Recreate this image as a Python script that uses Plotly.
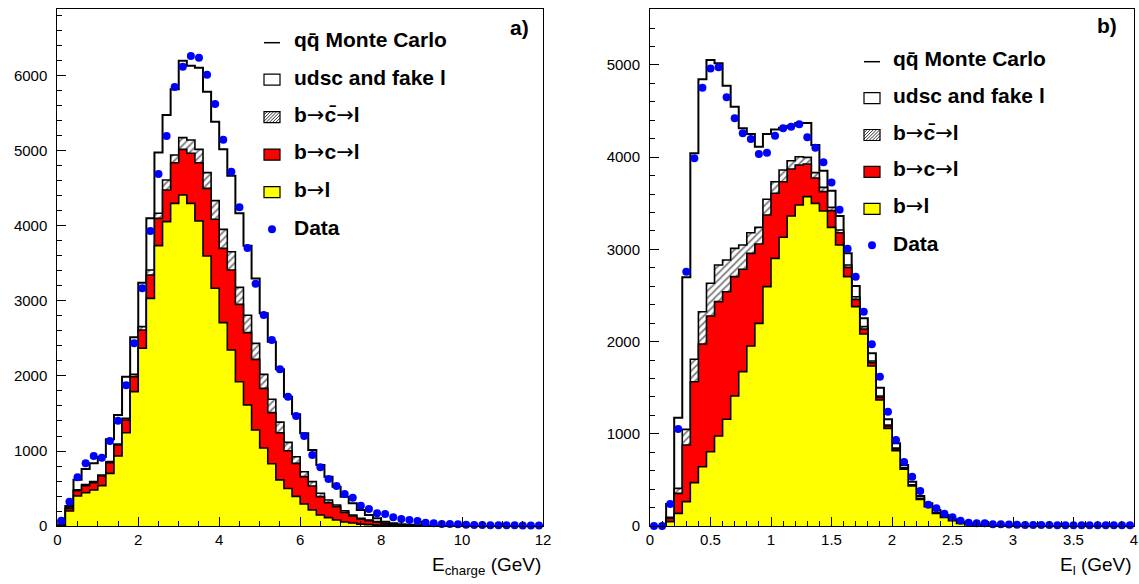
import numpy as np
import plotly.graph_objects as go

W, H = 1139, 584
FONT = "Liberation Sans, Arial, sans-serif"

# ---------------- data: panel a) E_charge, 60 bins of 0.2 GeV ----------------
a_edges = [round(0.2 * i, 4) for i in range(61)]
a_b_l = [5, 200, 400, 444, 480, 538, 702, 933, 1244, 1791,
         2369, 3035, 3738, 4058, 4302, 4413, 4302, 4066, 3600, 3169,
         2711, 2347, 1924, 1613, 1280, 1040, 830, 615, 500, 395,
         293, 213, 147, 111, 80, 53, 40, 25, 18, 12,
         8, 5, 3, 2, 1, 0, 0, 0, 0, 0,
         0, 0, 0, 0, 0, 0, 0, 0, 0, 0]
a_b_c_l = [10, 235, 471, 538, 578, 667, 844, 1080, 1413, 1991,
           2613, 3346, 4102, 4480, 4844, 5022, 4969, 4844, 4502, 4089,
           3702, 3413, 2955, 2578, 2222, 1835, 1511, 1244, 1004, 835,
           658, 533, 391, 311, 258, 182, 133, 93, 71, 49,
           31, 20, 12, 8, 5, 3, 2, 1, 0, 0,
           0, 0, 0, 0, 0, 0, 0, 0, 0, 0]
a_b_cbar_l = [12, 253, 484, 551, 591, 680, 858, 1093, 1435, 2022,
              2658, 3413, 4169, 4613, 4946, 5178, 5146, 5022, 4711, 4338,
              3955, 3657, 3182, 2809, 2435, 2022, 1689, 1385, 1115, 924,
              724, 591, 436, 347, 280, 204, 147, 102, 80, 58,
              36, 24, 15, 10, 6, 4, 3, 2, 1, 0,
              0, 0, 0, 0, 0, 0, 0, 0, 0, 0]
a_total = [70, 267, 618, 760, 835, 920, 1155, 1480, 1991, 2515,
           3244, 4102, 4980, 5480, 5822, 6204, 6137, 6110, 5791, 5391,
           5022, 4671, 4169, 3737, 3300, 2835, 2458, 2089, 1724, 1490,
           1235, 1013, 813, 658, 524, 391, 302, 213, 147, 102,
           58, 35, 22, 15, 10, 7, 5, 4, 3, 2,
           1, 1, 1, 0, 0, 0, 0, 0, 0, 0]
a_data = [71, 324, 649, 835, 933, 911, 1133, 1404, 1875, 2435,
          3169, 3933, 4693, 5200, 5853, 6124, 6267, 6244, 6018, 5626,
          5151, 4724, 4249, 3706, 3231, 2813, 2480, 2089, 1724, 1467,
          1200, 947, 782, 627, 533, 427, 378, 271, 227, 169,
          160, 116, 93, 80, 67, 44, 36, 27, 27, 22,
          18, 13, 13, 10, 10, 9, 9, 8, 8, 8]

# ---------------- data: panel b) E_l, 60 bins of 1/15 GeV ----------------
b_edges = [i / 15.0 for i in range(61)]
b_b_l = [0, 0, 47, 137, 264, 470, 643, 806, 976, 1157,
         1410, 1674, 1952, 2198, 2596, 2903, 3131, 3362, 3481, 3572,
         3499, 3416, 3239, 3047, 2704, 2379, 2082, 1735, 1366, 1059,
         817, 615, 434, 289, 210, 137, 94, 58, 29, 18,
         10, 6, 4, 2, 1, 0, 0, 0, 0, 0,
         0, 0, 0, 0, 0, 0, 0, 0, 0, 0]
b_b_c_l = [0, 0, 83, 354, 878, 1565, 1974, 2277, 2433, 2541,
           2704, 2784, 2957, 3058, 3373, 3608, 3734, 3872, 3915, 3926,
           3774, 3626, 3420, 3181, 2805, 2458, 2136, 1771, 1395, 1085,
           835, 628, 443, 296, 215, 141, 97, 60, 31, 19,
           11, 7, 4, 2, 1, 0, 0, 0, 0, 0,
           0, 0, 0, 0, 0, 0, 0, 0, 0, 0]
b_b_cbar_l = [0, 0, 94, 408, 1048, 1808, 2324, 2632, 2831, 2885,
              3011, 3047, 3181, 3239, 3543, 3734, 3861, 3962, 4005, 3998,
              3832, 3673, 3456, 3210, 2831, 2487, 2162, 1789, 1410, 1095,
              845, 635, 448, 300, 218, 144, 99, 62, 32, 20,
              12, 8, 5, 3, 1, 0, 0, 0, 0, 0,
              0, 0, 0, 0, 0, 0, 0, 0, 0, 0]
b_total = [0, 0, 239, 1175, 2697, 4042, 4844, 5054, 5018, 4775,
           4548, 4313, 4251, 4114, 4251, 4300, 4320, 4340, 4370, 4370,
           4132, 3854, 3637, 3362, 2957, 2603, 2252, 1873, 1500, 1157,
           897, 662, 481, 325, 246, 174, 119, 72, 47, 29,
           18, 12, 8, 5, 3, 2, 1, 1, 0, 0,
           0, 0, 0, 0, 0, 0, 0, 0, 0, 0]
b_data = [0, 0, 239, 1052, 2758, 3987, 4754, 4963, 4974, 4649,
          4421, 4259, 4197, 4034, 4049, 4233, 4313, 4331, 4356, 4215,
          4103, 3944, 3724, 3431, 3008, 2704, 2324, 1970, 1620, 1240,
          933, 694, 535, 380, 231, 192, 134, 94, 58, 36,
          29, 29, 18, 18, 15, 14, 12, 11, 10, 10,
          9, 9, 8, 8, 8, 7, 7, 7, 7, 7]

ARROW = "<span style=\"font-family:'DejaVu Sans';font-weight:normal\">\u2192</span>"
legend_labels = ["qq\u0304 Monte Carlo", "udsc and fake l",
                 "b" + ARROW + "c\u0304" + ARROW + "l",
                 "b" + ARROW + "c" + ARROW + "l",
                 "b" + ARROW + "l", "Data"]
trace_names = ["qq\u0304 Monte Carlo", "udsc and fake l", "b\u2192c\u0304\u2192l",
               "b\u2192c\u2192l", "b\u2192l", "Data"]


def stair(edges, vals):
    x = [edges[0]] + list(edges[:-1]) + [edges[-1], edges[-1]]
    y = [0] + list(vals) + [vals[-1], 0]
    return x, y


def centers(edges):
    return [(edges[i] + edges[i + 1]) / 2 for i in range(len(edges) - 1)]


fig = go.Figure()


def add_panel(edges, total, cbar, cl, bl, data, xa, ya):
    specs = [
        (total, "white", None, 2.0, trace_names[0]),
        (cbar, "white", dict(shape="/", fgcolor="black", bgcolor="white", size=5, solidity=0.35), 1.6, trace_names[2]),
        (cl, "#ff0000", None, 1.6, trace_names[3]),
        (bl, "#ffff00", None, 1.6, trace_names[4]),
    ]
    for vals, col, pat, lw, name in specs:
        x, y = stair(edges, vals)
        kw = dict(x=x, y=y, mode="lines", line=dict(shape="hv", color="black", width=lw),
                  fill="tozeroy", fillcolor=col, name=name, showlegend=False,
                  xaxis=xa, yaxis=ya, hoverinfo="skip")
        if pat is not None:
            kw["fillpattern"] = pat
        fig.add_trace(go.Scatter(**kw))
    fig.add_trace(go.Scatter(x=centers(edges), y=data, mode="markers",
                             marker=dict(color="#0000ff", size=8), name="Data",
                             showlegend=False, xaxis=xa, yaxis=ya, cliponaxis=False))


add_panel(a_edges, a_total, a_b_cbar_l, a_b_c_l, a_b_l, a_data, "x", "y")
add_panel(b_edges, b_total, b_b_cbar_l, b_b_c_l, b_b_l, b_data, "x2", "y2")

ybot = 1 - 526 / H
ytop = 1 - 9 / H

axis_common = dict(showline=True, linecolor="black", linewidth=1, mirror=True,
                   showgrid=False, zeroline=False, ticks="inside", tickcolor="black",
                   automargin=False,
                   tickfont=dict(family=FONT, size=15, color="black"))

fig.update_layout(
    width=W, height=H, margin=dict(l=0, r=0, t=0, b=0, autoexpand=False),
    paper_bgcolor="white", plot_bgcolor="white", showlegend=False,
    xaxis=dict(domain=[57.3 / W, 543 / W], range=[0, 12], tickvals=[0, 2, 4, 6, 8, 10, 12],
               ticklen=9, minor=dict(dtick=0.5, ticklen=5, ticks="inside", tickcolor="black"),
               anchor="y", **axis_common),
    yaxis=dict(domain=[ybot, ytop], range=[0, 6893], tickvals=[0, 1000, 2000, 3000, 4000, 5000, 6000],
               ticklen=9, minor=dict(dtick=200, ticklen=5, ticks="inside", tickcolor="black"),
               anchor="x", ticklabelstandoff=6, **axis_common),
    xaxis2=dict(domain=[650 / W, 1134 / W], range=[0, 4],
                tickvals=[0, 0.5, 1, 1.5, 2, 2.5, 3, 3.5, 4],
                ticktext=["0", "0.5", "1", "1.5", "2", "2.5", "3", "3.5", "4"],
                ticklen=9, minor=dict(dtick=0.1, ticklen=5, ticks="inside", tickcolor="black"),
                anchor="y2", **axis_common),
    yaxis2=dict(domain=[ybot, ytop], range=[0, 5607], tickvals=[0, 1000, 2000, 3000, 4000, 5000],
                ticklen=9, minor=dict(dtick=200, ticklen=5, ticks="inside", tickcolor="black"),
                anchor="x2", ticklabelstandoff=6, **axis_common),
)


def px(x):
    return x / W


def py(y):
    return 1 - y / H


shapes = []
annotations = []


def legend(x_sym0, x_sym1, x_text, base0, step):
    for i, lab in enumerate(legend_labels):
        b = base0 + step * i
        if i == 0:
            shapes.append(dict(type="line", xref="paper", yref="paper",
                               x0=px(x_sym0), x1=px(x_sym1), y0=py(b - 4), y1=py(b - 4),
                               line=dict(color="black", width=1.5)))
        elif i in (1, 2, 3, 4):
            fill = {1: "white", 2: "white", 3: "#ff0000", 4: "#ffff00"}[i]
            top, bot = b - 10, b + 1
            shapes.append(dict(type="rect", xref="paper", yref="paper",
                               x0=px(x_sym0), x1=px(x_sym1), y0=py(bot), y1=py(top),
                               fillcolor=fill, line=dict(color="black", width=1.2)))
            if i == 2:
                w = x_sym1 - x_sym0
                hgt = bot - top
                for k in np.arange(-hgt, w, 3.2):
                    xa0, ya0 = x_sym0 + k, bot
                    xa1, ya1 = x_sym0 + k + hgt, top
                    if xa0 < x_sym0:
                        ya0 = bot - (x_sym0 - xa0)
                        xa0 = x_sym0
                    if xa1 > x_sym1:
                        ya1 = top + (xa1 - x_sym1)
                        xa1 = x_sym1
                    if xa1 - xa0 < 0.5:
                        continue
                    shapes.append(dict(type="line", xref="paper", yref="paper",
                                       x0=px(xa0), x1=px(xa1), y0=py(ya0), y1=py(ya1),
                                       line=dict(color="black", width=0.8)))
        else:
            shapes.append(dict(type="circle", xref="paper", yref="paper",
                               x0=px((x_sym0 + x_sym1) / 2 - 4), x1=px((x_sym0 + x_sym1) / 2 + 4),
                               y0=py(b - 1), y1=py(b - 9),
                               fillcolor="#0000ff", line=dict(color="#0000ff", width=0)))
        annotations.append(dict(text="<b>" + lab + "</b>", xref="paper", yref="paper",
                                x=px(x_text), y=py(b - 7), xanchor="left", yanchor="middle",
                                showarrow=False, font=dict(family=FONT, size=21, color="black")))


legend(264, 280, 292, 46.7, 37.5)
legend(864, 880, 891, 65.7, 36.9)

annotations.append(dict(text="<b>a)</b>", xref="paper", yref="paper", x=px(531), y=py(28),
                        xanchor="right", yanchor="middle", showarrow=False,
                        font=dict(family=FONT, size=21, color="black")))
annotations.append(dict(text="<b>b)</b>", xref="paper", yref="paper", x=px(1119), y=py(26),
                        xanchor="right", yanchor="middle", showarrow=False,
                        font=dict(family=FONT, size=21, color="black")))
annotations.append(dict(text="E<sub>charge</sub> (GeV)", xref="paper", yref="paper", x=px(543), y=py(566),
                        xanchor="right", yanchor="middle", showarrow=False,
                        font=dict(family=FONT, size=19, color="black")))
annotations.append(dict(text="E<sub>l</sub> (GeV)", xref="paper", yref="paper", x=px(1134), y=py(566),
                        xanchor="right", yanchor="middle", showarrow=False,
                        font=dict(family=FONT, size=19, color="black")))

fig.update_layout(shapes=shapes, annotations=annotations)
fig.write_html("out.html")
